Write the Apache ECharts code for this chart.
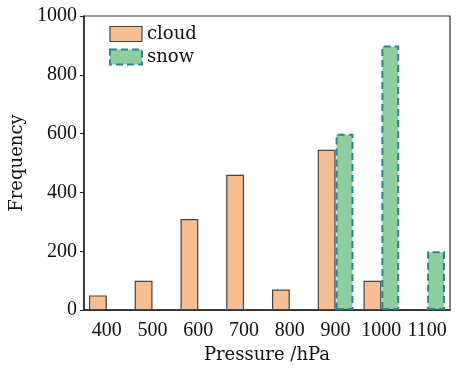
<!DOCTYPE html>
<html><head><meta charset="utf-8">
<script src="https://cdn.jsdelivr.net/npm/echarts@6/dist/echarts.min.js"></script>
<style>html,body{margin:0;padding:0;background:#fff}#c{width:458px;height:369px}</style>
</head><body><div id="c"></div>
<script>
const categories = ['400','500','600','700','800','900','1000','1100'];
const cloud = [50, 100, 310, 460, 70, 545, 100, null];
const snow = [null, null, null, null, null, 600, 900, 200];
const yTicks = [0, 200, 400, 600, 800, 1000];

const TFONT = 'Liberation Serif';
const NFONT = 'DejaVu Serif';
const cloudStyle = {color: '#F5BE93', borderColor: '#444', borderWidth: 1.2};
const snowStyle = {color: '#8ECE9E', borderColor: '#2F8090', borderWidth: 2, borderType: [7, 4]};
const chart = echarts.init(document.getElementById('c'));
chart.setOption({
  animation: false,
  backgroundColor: '#fff',
  textStyle: {fontFamily: TFONT, color: '#111'},
  grid: {left: 79, right: 8, top: 16, bottom: 54, show: true, borderColor: '#333', borderWidth: 1.2},
  legend: {
    left: 104, top: 20, orient: 'vertical', itemWidth: 32, itemHeight: 15, itemGap: 5, icon: 'rect',
    textStyle: {fontFamily: NFONT, fontSize: 18, color: '#111'},
    data: [
      {name: 'cloud', icon: 'rect', itemStyle: cloudStyle},
      {name: 'snow', icon: 'rect', itemStyle: snowStyle}
    ]
  },
  xAxis: {
    type: 'category', data: categories,
    name: 'Pressure /hPa', nameLocation: 'middle', nameGap: 34,
    nameTextStyle: {fontFamily: NFONT, fontSize: 18, color: '#111'},
    axisLine: {lineStyle: {color: '#222', width: 1.5}},
    axisTick: {show: false},
    axisLabel: {fontFamily: TFONT, fontSize: 20, color: '#111', margin: 11, interval: 0}
  },
  yAxis: {
    type: 'value', min: 0, max: 1000, interval: 200,
    name: 'Frequency', nameLocation: 'middle', nameGap: 48,
    nameTextStyle: {fontFamily: NFONT, fontSize: 18, color: '#111'},
    axisLine: {show: true, lineStyle: {color: '#222', width: 1.5}},
    axisTick: {show: true, length: 4, lineStyle: {color: '#222'}},
    splitLine: {show: false},
    axisLabel: {fontFamily: TFONT, fontSize: 20, color: '#111', margin: 7,
      formatter: v => String(v)}
  },
  series: [
    {name: 'cloud', type: 'bar', data: cloud, barGap: '0%', barCategoryGap: '22%', itemStyle: cloudStyle},
    {name: 'snow', type: 'bar', data: snow, itemStyle: snowStyle}
  ]
});
</script></body></html>
